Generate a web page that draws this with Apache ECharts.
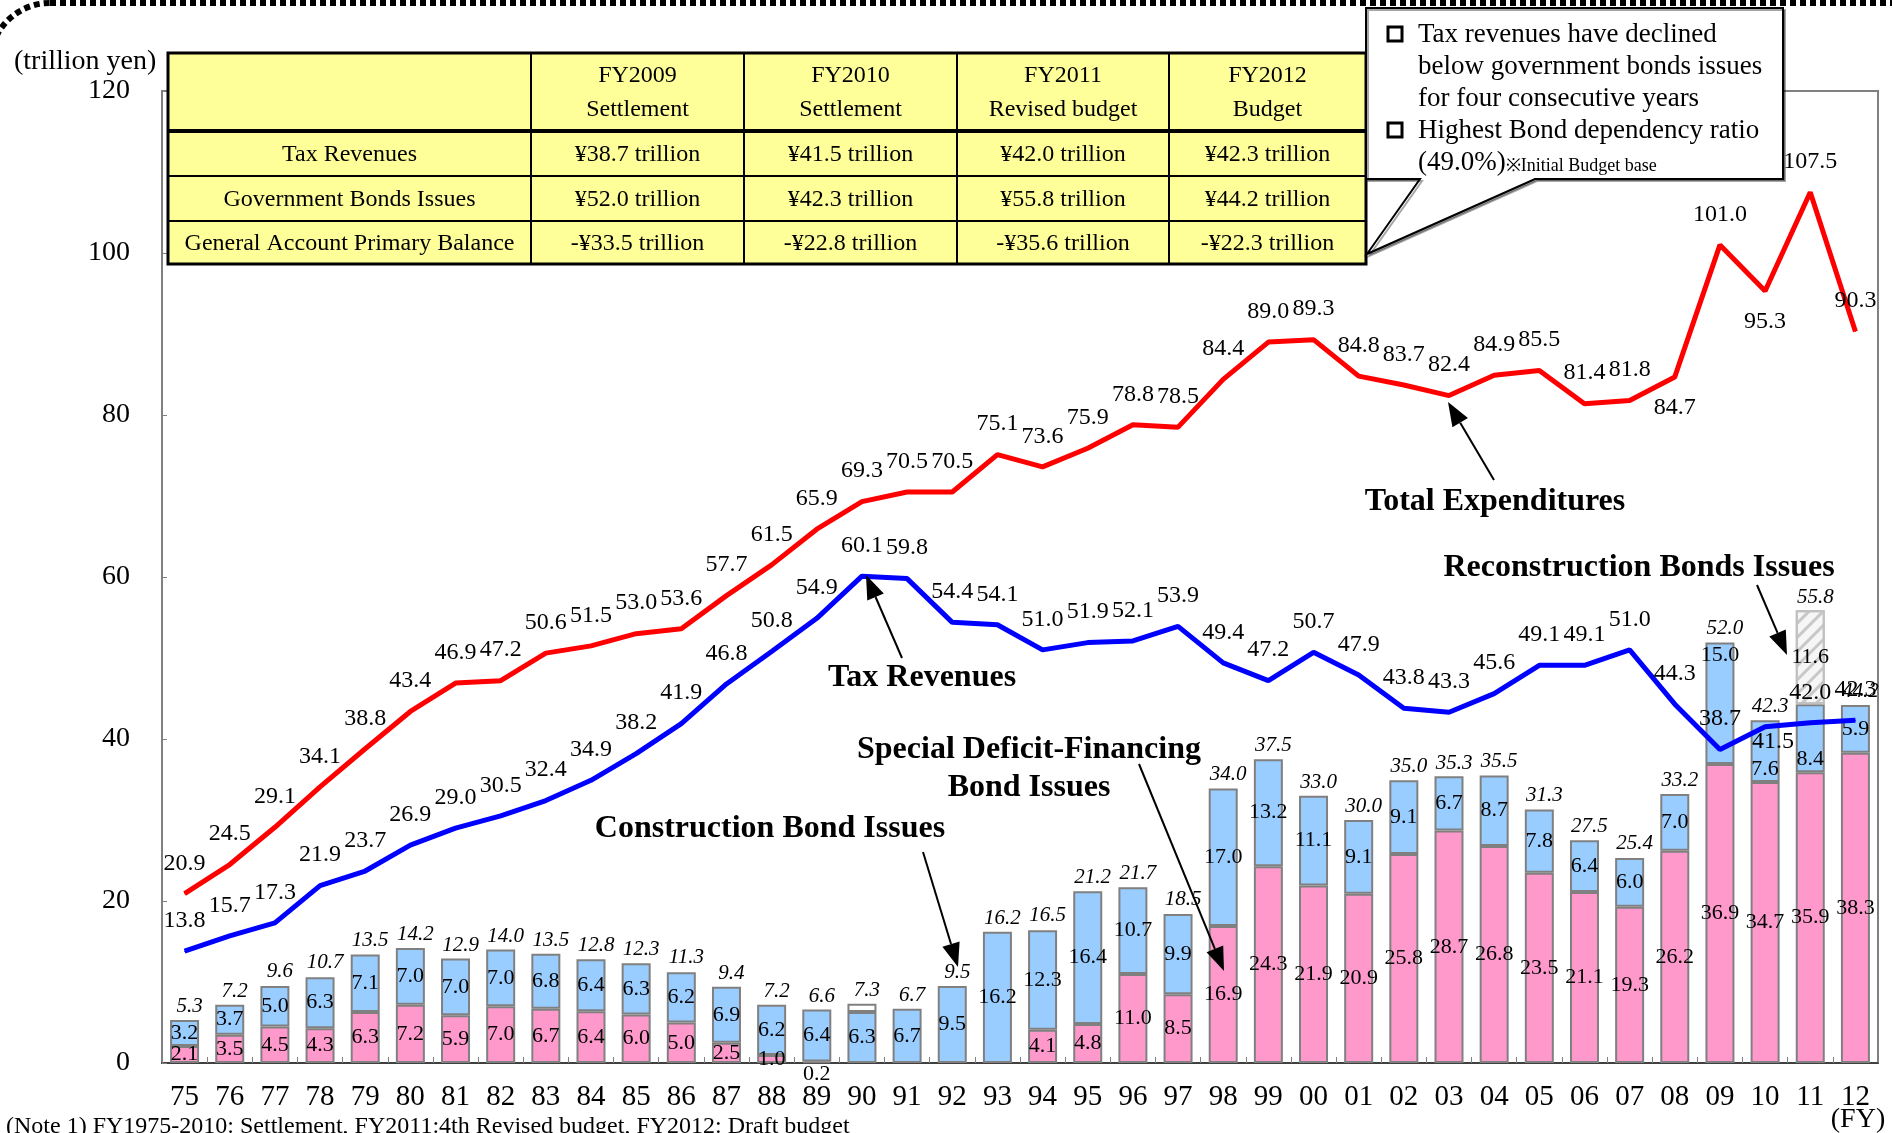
<!DOCTYPE html>
<html>
<head>
<meta charset="utf-8">
<title>Tax revenues, expenditures and bond issues</title>
<script src="https://cdn.jsdelivr.net/npm/echarts@6/dist/echarts.min.js"></script>
<style>
  html, body { margin: 0; padding: 0; background: #fff; }
  #chart { width: 1892px; height: 1133px; }
</style>
</head>
<body>
<div id="chart"></div>
<script>
// fiscal years 1975 - 2012
const years = ['75', '76', '77', '78', '79', '80', '81', '82', '83', '84', '85', '86', '87', '88', '89',
  '90', '91', '92', '93', '94', '95', '96', '97', '98', '99',
  '00', '01', '02', '03', '04', '05', '06', '07', '08', '09', '10', '11', '12']

const totalExpenditures = [20.9, 24.5, 29.1, 34.1, 38.8, 43.4, 46.9, 47.2, 50.6, 51.5, 53.0, 53.6, 57.7, 61.5, 65.9,
  69.3, 70.5, 70.5, 75.1, 73.6, 75.9, 78.8, 78.5, 84.4, 89.0,
  89.3, 84.8, 83.7, 82.4, 84.9, 85.5, 81.4, 81.8, 84.7, 101.0, 95.3, 107.5, 90.3]

const taxRevenues = [13.8, 15.7, 17.3, 21.9, 23.7, 26.9, 29.0, 30.5, 32.4, 34.9, 38.2, 41.9, 46.8, 50.8, 54.9,
  60.1, 59.8, 54.4, 54.1, 51.0, 51.9, 52.1, 53.9, 49.4, 47.2,
  50.7, 47.9, 43.8, 43.3, 45.6, 49.1, 49.1, 51.0, 44.3, 38.7, 41.5, 42.0, 42.3]

const deficitBonds = [2.1, 3.5, 4.5, 4.3, 6.3, 7.2, 5.9, 7.0, 6.7, 6.4, 6.0, 5.0, 2.5, 1.0, 0.2,
  null, null, null, null, 4.1, 4.8, 11.0, 8.5, 16.9, 24.3,
  21.9, 20.9, 25.8, 28.7, 26.8, 23.5, 21.1, 19.3, 26.2, 36.9, 34.7, 35.9, 38.3]

const constructionBonds = [3.2, 3.7, 5.0, 6.3, 7.1, 7.0, 7.0, 7.0, 6.8, 6.4, 6.3, 6.2, 6.9, 6.2, 6.4,
  6.3, 6.7, 9.5, 16.2, 12.3, 16.4, 10.7, 9.9, 17.0, 13.2,
  11.1, 9.1, 9.1, 6.7, 8.7, 7.8, 6.4, 6.0, 7.0, 15.0, 7.6, 8.4, 5.9]

// FY1990 only (white part of the bar)
const otherBonds = years.map((y) => (y === '90' ? 1.0 : null))
// FY2011 only (hatched part of the bar)
const reconstructionBonds = years.map((y) => (y === '11' ? 11.6 : null))

const bondTotals = [5.3, 7.2, 9.6, 10.7, 13.5, 14.2, 12.9, 14.0, 13.5, 12.8, 12.3, 11.3, 9.4, 7.2, 6.6,
  7.3, 6.7, 9.5, 16.2, 16.5, 21.2, 21.7, 18.5, 34.0, 37.5,
  33.0, 30.0, 35.0, 35.3, 35.5, 31.3, 27.5, 25.4, 33.2, 52.0, 42.3, 55.8, 44.2]

const yTicks = [0, 20, 40, 60, 80, 100, 120]

// labels drawn under the point instead of over it
const expLabelBelow = ['08', '10']
const taxLabelBelow = ['10']
// construction bond labels moved away from the tax line
const constrLabelPos = { '09': 'insideTop', '10': 'insideBottom', '11': 'insideBottom' }

const tableHead = ['', 'FY2009\nSettlement', 'FY2010\nSettlement', 'FY2011\nRevised budget', 'FY2012\nBudget']
const tableRows = [
  ['Tax Revenues', '¥38.7 trillion', '¥41.5 trillion', '¥42.0 trillion', '¥42.3 trillion'],
  ['Government Bonds Issues', '¥52.0 trillion', '¥42.3 trillion', '¥55.8 trillion', '¥44.2 trillion'],
  ['General Account Primary Balance', '-¥33.5 trillion', '-¥22.8 trillion', '-¥35.6 trillion', '-¥22.3 trillion']
]

const calloutLines = [
  'Tax revenues have declined',
  'below government bonds issues',
  'for four consecutive years',
  'Highest Bond dependency ratio'
]

const FONT = '"Liberation Serif", "Times New Roman", serif'

const chart = echarts.init(document.getElementById('chart'))

function fmt(p) {
  return p.value == null || isNaN(p.value) ? '' : Number(p.value).toFixed(1)
}

function arrow(x1, y1, x2, y2) {
  const a = Math.atan2(y2 - y1, x2 - x1)
  const len = 24, w = 9
  const bx = x2 - len * Math.cos(a), by = y2 - len * Math.sin(a)
  return [
    { type: 'line', z: 120, shape: { x1, y1, x2: bx, y2: by }, style: { stroke: '#000', lineWidth: 2 } },
    {
      type: 'polygon', z: 120,
      shape: { points: [[x2, y2], [bx + w * Math.sin(a), by - w * Math.cos(a)], [bx - w * Math.sin(a), by + w * Math.cos(a)]] },
      style: { fill: '#000' }
    }
  ]
}

function boldText(text, x, y) {
  return {
    type: 'text', z: 120, x, y,
    style: { text, font: 'bold 32px ' + FONT, fill: '#000', align: 'center', verticalAlign: 'middle' }
  }
}

// table in the top left
function buildTable() {
  const colX = [168, 531, 744, 957, 1169, 1366]
  const rowY = [53, 131, 176, 221, 264]
  const els = []
  els.push({
    type: 'rect', z: 100,
    shape: { x: colX[0], y: rowY[0], width: colX[5] - colX[0], height: rowY[4] - rowY[0] },
    style: { fill: '#FFFF99', stroke: '#000', lineWidth: 3 }
  })
  for (let i = 1; i < 5; i++) {
    els.push({ type: 'line', z: 101, shape: { x1: colX[i], y1: rowY[0], x2: colX[i], y2: rowY[4] }, style: { stroke: '#000', lineWidth: 2 } })
  }
  for (let j = 1; j < 4; j++) {
    els.push({ type: 'line', z: 101, shape: { x1: colX[0], y1: rowY[j], x2: colX[5], y2: rowY[j] }, style: { stroke: '#000', lineWidth: j === 1 ? 4 : 2 } })
  }
  const rows = [tableHead].concat(tableRows)
  rows.forEach((row, j) => {
    row.forEach((cell, i) => {
      els.push({
        type: 'text', z: 102,
        x: (colX[i] + colX[i + 1]) / 2,
        y: (rowY[j] + rowY[j + 1]) / 2 + 1,
        style: { text: cell, font: '24px ' + FONT, fill: '#000', align: 'center', verticalAlign: 'middle', lineHeight: 34 }
      })
    })
  })
  return els
}

function buildCallout() {
  const els = [{
    type: 'polygon', z: 100,
    shape: { points: [[1366, 8], [1783, 8], [1783, 179], [1535, 179], [1367, 254], [1420, 179], [1366, 179]] },
    style: { fill: '#fff', stroke: '#000', lineWidth: 2, shadowColor: 'rgba(0,0,0,0.35)', shadowOffsetX: 2, shadowOffsetY: 2 }
  }]
  const lineY = [35, 67, 99, 131]
  calloutLines.forEach((t, i) => {
    els.push({ type: 'text', z: 102, x: 1418, y: lineY[i], style: { text: t, font: '27px ' + FONT, fill: '#000', verticalAlign: 'middle' } })
  })
  els.push({
    type: 'text', z: 102, x: 1418, y: 163,
    style: {
      text: '{a|(49.0%)}{b|※Initial Budget base}',
      verticalAlign: 'middle',
      rich: {
        a: { font: '27px ' + FONT, fill: '#000' },
        b: { font: '18px ' + FONT, fill: '#000', padding: [6, 0, 0, 0] }
      }
    }
  })
  ;[27, 123].forEach((y) => {
    els.push({ type: 'rect', z: 102, shape: { x: 1388, y, width: 14, height: 14 }, style: { fill: 'none', stroke: '#000', lineWidth: 3 } })
  })
  return els
}

const graphics = [
  // dashed frame peeking in at the top
  {
    type: 'rect', z: 90,
    shape: { x: -10, y: 3, width: 2000, height: 1300, r: 60 },
    style: { fill: 'none', stroke: '#000', lineWidth: 6, lineDash: [6, 4] }
  },
  { type: 'text', z: 100, x: 14, y: 62, style: { text: '(trillion yen)', font: '28px ' + FONT, fill: '#000', verticalAlign: 'middle' } },
  { type: 'text', z: 100, x: 1858, y: 1120, style: { text: '(FY)', font: '28px ' + FONT, fill: '#000', align: 'center', verticalAlign: 'middle' } },
  {
    type: 'text', z: 100, x: 6, y: 1127,
    style: { text: '(Note 1) FY1975-2010: Settlement, FY2011:4th Revised budget, FY2012: Draft budget', font: '24px ' + FONT, fill: '#000', verticalAlign: 'middle' }
  },
  boldText('Total Expenditures', 1495, 502),
  boldText('Tax Revenues', 922, 678),
  boldText('Reconstruction Bonds Issues', 1639, 568),
  boldText('Special Deficit-Financing', 1029, 750),
  boldText('Bond Issues', 1029, 788),
  boldText('Construction Bond Issues', 770, 829)
]
  .concat(arrow(1494, 480, 1448, 402))
  .concat(arrow(902, 658, 866, 575))
  .concat(arrow(1757, 585, 1787, 655))
  .concat(arrow(1139, 764, 1224, 971))
  .concat(arrow(923, 852, 958, 967))
  .concat(buildTable())
  .concat(buildCallout())

const barBase = {
  type: 'bar',
  stack: 'bonds',
  barWidth: 29,
  itemStyle: { borderColor: '#808080', borderWidth: 2 },
  label: { show: true, position: 'inside', color: '#000', fontFamily: FONT, fontSize: 22, formatter: fmt }
}

const lineLabel = { show: true, position: 'top', distance: 18, color: '#000', fontFamily: FONT, fontSize: 24, formatter: fmt }

chart.setOption({
  animation: false,
  textStyle: { fontFamily: FONT },
  grid: { left: 162, right: 14, top: 91, bottom: 70, show: true, borderColor: '#808080', borderWidth: 2 },
  xAxis: {
    type: 'category',
    data: years,
    axisLine: { lineStyle: { color: '#404040', width: 2 } },
    axisTick: { show: true, inside: true, length: 6, lineStyle: { color: '#808080' } },
    axisLabel: { interval: 0, color: '#000', fontFamily: FONT, fontSize: 29, margin: 20 }
  },
  yAxis: {
    type: 'value',
    min: yTicks[0],
    max: yTicks[yTicks.length - 1],
    interval: 20,
    splitLine: { show: false },
    axisLine: { show: true, lineStyle: { color: '#808080', width: 2 } },
    axisTick: { show: true, inside: true, length: 5, lineStyle: { color: '#808080' } },
    axisLabel: { color: '#000', fontFamily: FONT, fontSize: 28, margin: 32 }
  },
  graphic: graphics,
  series: [
    Object.assign({}, barBase, {
      name: 'Special Deficit-Financing Bond Issues',
      data: deficitBonds.map((v, i) => (years[i] === '89' ? { value: v, label: { position: 'bottom', distance: 0 } } : v)),
      itemStyle: { color: '#FF99CC', borderColor: '#808080', borderWidth: 2 }
    }),
    Object.assign({}, barBase, {
      name: 'Construction Bond Issues',
      data: constructionBonds.map((v, i) => (constrLabelPos[years[i]] ? { value: v, label: { position: constrLabelPos[years[i]], distance: 2 } } : v)),
      itemStyle: { color: '#99CCFF', borderColor: '#808080', borderWidth: 2 }
    }),
    Object.assign({}, barBase, {
      name: 'Other',
      data: otherBonds,
      label: { show: false },
      itemStyle: { color: '#fff', borderColor: '#808080', borderWidth: 2 }
    }),
    Object.assign({}, barBase, {
      name: 'Reconstruction Bonds Issues',
      data: reconstructionBonds,
      itemStyle: {
        color: '#f6f6f6', borderColor: '#c0c0c0', borderWidth: 2,
        decal: { symbol: 'rect', symbolSize: 1, dashArrayX: [1, 0], dashArrayY: [3, 7], rotation: -Math.PI / 4, color: '#c8c8c8' }
      }
    }),
    {
      name: 'Total bonds',
      type: 'scatter',
      symbolSize: 0,
      data: bondTotals,
      itemStyle: { opacity: 1 },
      label: { show: true, position: 'top', distance: 3, offset: [5, 0], color: '#000', fontFamily: FONT, fontSize: 21, fontStyle: 'italic', formatter: fmt }
    },
    {
      name: 'Total Expenditures',
      type: 'line',
      symbol: 'circle',
      symbolSize: 1,
      showSymbol: true,
      data: totalExpenditures.map((v, i) => (expLabelBelow.includes(years[i]) ? { value: v, label: { position: 'bottom', distance: 18 } } : v)),
      lineStyle: { color: '#FF0000', width: 5 },
      itemStyle: { color: '#FF0000' },
      label: lineLabel,
      z: 5
    },
    {
      name: 'Tax Revenues',
      type: 'line',
      symbol: 'circle',
      symbolSize: 1,
      showSymbol: true,
      data: taxRevenues.map((v, i) => (taxLabelBelow.includes(years[i]) ? { value: v, label: { position: 'bottom', distance: 2, offset: [8, 0] } } : v)),
      lineStyle: { color: '#0000FF', width: 5 },
      itemStyle: { color: '#0000FF' },
      label: lineLabel,
      z: 5
    }
  ]
})
</script>
</body>
</html>
